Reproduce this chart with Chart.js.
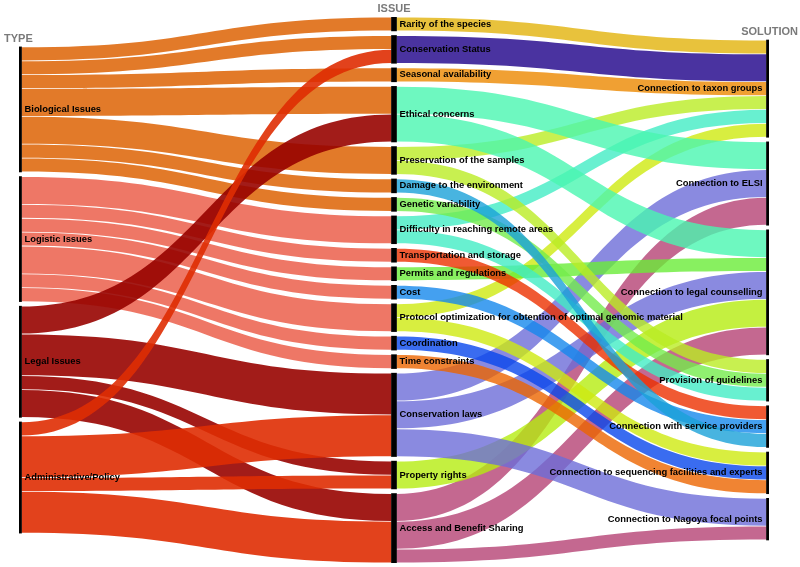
<!DOCTYPE html>
<html>
<head>
<meta charset="utf-8">
<script src="https://cdn.jsdelivr.net/npm/chart.js@4.4.1/dist/chart.umd.min.js"></script>
<style>
html, body { margin: 0; padding: 0; background: #fff; }
#wrap { width: 800px; height: 567px; position: relative; }
</style>
</head>
<body>
<div id="wrap"><canvas id="sankey"></canvas></div>
<script>
// column headers
var columnTitles = ['TYPE', 'ISSUE', 'SOLUTION'];

var types = ['Biological Issues', 'Logistic Issues', 'Legal Issues', 'Administrative/Policy'];

var issues = ['Rarity of the species', 'Conservation Status', 'Seasonal availability', 'Ethical concerns',
	'Preservation of the samples', 'Damage to the environment', 'Genetic variability',
	'Difficulty in reaching remote areas', 'Transportation and storage', 'Permits and regulations', 'Cost',
	'Protocol optimization for obtention of optimal genomic material', 'Coordination', 'Time constraints',
	'Conservation laws', 'Property rights', 'Access and Benefit Sharing'];

var solutions = ['Connection to taxon groups', 'Connection to ELSI', 'Connection to legal counselling',
	'Provision of guidelines', 'Connection with service providers',
	'Connection to sequencing facilities and experts', 'Connection to Nagoya focal points'];

// type -> issue [from, to, value]
var typeToIssue = [
	['Biological Issues', 'Rarity of the species', 1],
	['Biological Issues', 'Conservation Status', 1],
	['Biological Issues', 'Seasonal availability', 1],
	['Biological Issues', 'Ethical concerns', 2],
	['Biological Issues', 'Preservation of the samples', 2],
	['Biological Issues', 'Damage to the environment', 1],
	['Biological Issues', 'Genetic variability', 1],
	['Logistic Issues', 'Difficulty in reaching remote areas', 2],
	['Logistic Issues', 'Transportation and storage', 1],
	['Logistic Issues', 'Permits and regulations', 1],
	['Logistic Issues', 'Cost', 1],
	['Logistic Issues', 'Protocol optimization for obtention of optimal genomic material', 2],
	['Logistic Issues', 'Coordination', 1],
	['Logistic Issues', 'Time constraints', 1],
	['Legal Issues', 'Ethical concerns', 2],
	['Legal Issues', 'Conservation laws', 3],
	['Legal Issues', 'Property rights', 1],
	['Legal Issues', 'Access and Benefit Sharing', 2],
	['Administrative/Policy', 'Conservation Status', 1],
	['Administrative/Policy', 'Conservation laws', 3],
	['Administrative/Policy', 'Property rights', 1],
	['Administrative/Policy', 'Access and Benefit Sharing', 3]
];

// issue -> solution [from, to, value], listed in the order they stack on the solution
var issueToSolution = [
	['Rarity of the species', 'Connection to taxon groups', 1],
	['Conservation Status', 'Connection to taxon groups', 2],
	['Seasonal availability', 'Connection to taxon groups', 1],
	['Preservation of the samples', 'Connection to taxon groups', 1],
	['Difficulty in reaching remote areas', 'Connection to taxon groups', 1],
	['Protocol optimization for obtention of optimal genomic material', 'Connection to taxon groups', 1],
	['Ethical concerns', 'Connection to ELSI', 2],
	['Conservation laws', 'Connection to ELSI', 2],
	['Access and Benefit Sharing', 'Connection to ELSI', 2],
	['Ethical concerns', 'Connection to legal counselling', 2],
	['Permits and regulations', 'Connection to legal counselling', 1],
	['Conservation laws', 'Connection to legal counselling', 2],
	['Property rights', 'Connection to legal counselling', 2],
	['Access and Benefit Sharing', 'Connection to legal counselling', 2],
	['Preservation of the samples', 'Provision of guidelines', 1],
	['Genetic variability', 'Provision of guidelines', 1],
	['Difficulty in reaching remote areas', 'Provision of guidelines', 1],
	['Transportation and storage', 'Connection with service providers', 1],
	['Cost', 'Connection with service providers', 1],
	['Damage to the environment', 'Connection with service providers', 1],
	['Protocol optimization for obtention of optimal genomic material', 'Connection to sequencing facilities and experts', 1],
	['Coordination', 'Connection to sequencing facilities and experts', 1],
	['Time constraints', 'Connection to sequencing facilities and experts', 1],
	['Conservation laws', 'Connection to Nagoya focal points', 2],
	['Access and Benefit Sharing', 'Connection to Nagoya focal points', 1]
];

// colours as they look on white
var typeColors = ['#e27b2a', '#ee7766', '#a21c12', '#e2431c'];
var issueColors = ['#e8c23c', '#4a32a0', '#f0a030', '#6ef8c0', '#c8f050', '#48b4e0', '#90f070', '#68f0d0',
	'#f05a1a', '#88f060', '#44a0f0', '#d8ee40', '#3a6cf0', '#f08424', '#8a8ae0', '#c4f040', '#c46890'];

var GAP = 0.331;   // gap between nodes, in value units
var BAR = 5;       // node bar width px

function withAlpha(hex, a) {
	var r = parseInt(hex.substr(1, 2), 16), g = parseInt(hex.substr(3, 2), 16), b = parseInt(hex.substr(5, 2), 16);
	var f = function(v){ return Math.max(0, Math.min(255, Math.round((v - (1 - a) * 255) / a))); };
	return 'rgba(' + f(r) + ',' + f(g) + ',' + f(b) + ',' + a + ')';
}

// build nodes
var columns = [types, issues, solutions];
var nodes = columns.map(function(names, c){
	return names.map(function(n, i){ return {name: n, col: c, idx: i, inV: 0, outV: 0}; });
});
function findNode(c, name){
	for (var i in nodes[c]) if (nodes[c][i].name == name) return nodes[c][i];
}
var flows = [];
typeToIssue.forEach(function(f){
	flows.push({s: findNode(0, f[0]), t: findNode(1, f[1]), value: f[2], color: typeColors[types.indexOf(f[0])], alpha: 0.9});
});
issueToSolution.forEach(function(f){
	flows.push({s: findNode(1, f[0]), t: findNode(2, f[1]), value: f[2], color: issueColors[issues.indexOf(f[0])], alpha: 0.8});
});
flows.forEach(function(f){ f.s.outV += f.value; f.t.inV += f.value; });

var colTotals = nodes.map(function(col){
	var s = 0;
	col.forEach(function(n){ n.value = Math.max(n.inV, n.outV); s += n.value; });
	return s + (col.length - 1) * GAP;
});
var maxTotal = Math.max.apply(null, colTotals);
nodes.forEach(function(col, c){
	var y = (maxTotal - colTotals[c]) / 2;
	col.forEach(function(n){
		n.y0 = y; n.y1 = y + n.value; y = n.y1 + GAP;
		n.outOff = n.y0; n.inOff = n.y0;
	});
});
// source side: sorted by target position
flows.slice().sort(function(a, b){ return a.t.col - b.t.col || a.t.idx - b.t.idx; }).forEach(function(f){
	f.sy0 = f.s.outOff; f.s.outOff += f.value; f.sy1 = f.s.outOff;
});
// target side: data order
flows.forEach(function(f){
	f.ty0 = f.t.inOff; f.t.inOff += f.value; f.ty1 = f.t.inOff;
});

var nodeBars = [];
nodes.forEach(function(col){
	col.forEach(function(n){ nodeBars.push({x: n.col, y: [n.y0, n.y1]}); });
});

var sankeyPlugin = {
	id: 'sankeyLinks',
	beforeDatasetsDraw: function(chart){
		var ctx = chart.ctx, xs = chart.scales.x, ys = chart.scales.y;
		ctx.save();
		flows.forEach(function(f){
			var x0 = xs.getPixelForValue(f.s.col) + BAR / 2;
			var x1 = xs.getPixelForValue(f.t.col) - BAR / 2;
			var xm = (x0 + x1) / 2;
			var a0 = ys.getPixelForValue(f.sy0) + 0.4, a1 = ys.getPixelForValue(f.sy1) - 0.4;
			var b0 = ys.getPixelForValue(f.ty0) + 0.4, b1 = ys.getPixelForValue(f.ty1) - 0.4;
			ctx.beginPath();
			ctx.moveTo(x0, a0);
			ctx.bezierCurveTo(xm, a0, xm, b0, x1, b0);
			ctx.lineTo(x1, b1);
			ctx.bezierCurveTo(xm, b1, xm, a1, x0, a1);
			ctx.closePath();
			ctx.fillStyle = withAlpha(f.color, f.alpha);
			ctx.fill();
		});
		ctx.restore();
	},
	afterDatasetsDraw: function(chart){
		var ctx = chart.ctx, xs = chart.scales.x, ys = chart.scales.y;
		ctx.save();
		ctx.textBaseline = 'middle';
		ctx.fillStyle = '#000';
		ctx.font = 'bold 9.4px "Liberation Sans", Arial, sans-serif';
		nodes.forEach(function(col, c){
			col.forEach(function(n){
				var yc = ys.getPixelForValue((n.y0 + n.y1) / 2);
				var xp = xs.getPixelForValue(c);
				if (c == 2) {
					ctx.textAlign = 'right';
					ctx.fillText(n.name, xp - BAR / 2 - 4, yc);
				} else {
					ctx.textAlign = 'left';
					ctx.fillText(n.name, xp + BAR / 2 + 3, yc);
				}
			});
		});
		// headers
		ctx.fillStyle = '#7a7a7a';
		ctx.font = 'bold 11px "Liberation Sans", Arial, sans-serif';
		columnTitles.forEach(function(t, c){
			var top = ys.getPixelForValue(nodes[c][0].y0) - 8;
			var xp = xs.getPixelForValue(c);
			if (c == 0) { ctx.textAlign = 'left'; ctx.fillText(t, xp - 15, top); }
			else if (c == 1) { ctx.textAlign = 'center'; ctx.fillText(t, xp, top); }
			else { ctx.textAlign = 'right'; ctx.fillText(t, xp + 29, top); }
		});
		ctx.restore();
	}
};

var chart = new Chart(document.getElementById('sankey'), {
	type: 'bar',
	data: {
		datasets: [{
			label: 'nodes',
			data: nodeBars,
			backgroundColor: '#000',
			barThickness: BAR,
			borderWidth: 0
		}]
	},
	options: {
		responsive: true,
		maintainAspectRatio: false,
		animation: false,
		layout: { padding: { left: 19, right: 31, top: 17, bottom: 4 } },
		scales: {
			x: { type: 'linear', min: 0, max: 2, offset: false, display: false },
			y: { type: 'linear', min: 0, max: maxTotal, reverse: true, display: false }
		},
		plugins: { legend: { display: false }, tooltip: { enabled: false } }
	},
	plugins: [sankeyPlugin]
});
</script>
</body>
</html>
